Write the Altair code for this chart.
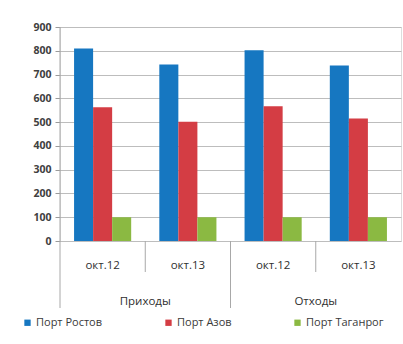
import altair as alt
import pandas as pd

groups = ["Приходы", "Приходы", "Отходы", "Отходы"]
months = ["окт.12", "окт.13", "окт.12", "окт.13"]
series = ["Порт Ростов", "Порт Азов", "Порт Таганрог"]
rostov = [810, 742, 802, 738]
azov = [562, 501, 567, 515]
taganrog = [100, 100, 100, 100]
colors = ["#1677c1", "#d43d44", "#8bb942"]

keys = [f"{g}|{m}|{i}" for i, (g, m) in enumerate(zip(groups, months))]
rows = []
for s, vals in zip(series, [rostov, azov, taganrog]):
    for k, v in zip(keys, vals):
        rows.append({"key": k, "series": s, "value": v})
df = pd.DataFrame(rows)

W, H = 341, 214
font = "Open Sans"

xband = alt.X("key:N", sort=keys, axis=None,
              scale=alt.Scale(paddingInner=0.33, paddingOuter=0.165))

bars = alt.Chart(df).mark_bar().encode(
    x=xband,
    xOffset=alt.XOffset("series:N", sort=series),
    y=alt.Y("value:Q", scale=alt.Scale(domain=[0, 900]),
            axis=alt.Axis(values=list(range(0, 901, 100)), title=None,
                          grid=True, gridColor="#bdbdbd", gridWidth=1,
                          domain=False, tickColor="#9a9a9a", tickSize=5,
                          labelFont=font, labelFontSize=10.5, labelColor="#404040",
                          labelFontWeight="bold", labelPadding=4)),
    color=alt.Color("series:N", sort=series,
                    scale=alt.Scale(domain=series, range=colors),
                    legend=alt.Legend(title=None, orient="none", legendX=-38, legendY=290,
                                      direction="horizontal", symbolType="square",
                                      symbolSize=40, symbolStrokeWidth=0,
                                      labelFont=font, labelFontSize=11,
                                      labelColor="#3a3a3a", columnPadding=60,
                                      labelOffset=3)),
)

mdf = pd.DataFrame({"key": keys, "month": months})
month_text = alt.Chart(mdf).mark_text(font=font, fontSize=11.5, color="#303030").encode(
    x=alt.X("key:N", sort=keys, axis=None),
    y=alt.value(H + 25),
    text="month:N",
)

# boundaries between categories (index-based positions)
sep = pd.DataFrame({"pos": list(range(len(keys)))})
sep["long"] = [p % 2 == 0 for p in sep["pos"]]
xq = alt.X("pos:Q", scale=alt.Scale(domain=[0, len(keys)]), axis=None)
short_rules = alt.Chart(sep[~sep["long"]]).mark_rule(color="#a8a8a8").encode(
    x=xq, y=alt.value(H), y2=alt.value(H + 31))
long_rules = alt.Chart(sep[sep["long"]]).mark_rule(color="#a8a8a8").encode(
    x=xq, y=alt.value(H), y2=alt.value(H + 67))
axis_line = alt.Chart(sep[sep["pos"] == 0]).mark_rule(color="#a8a8a8").encode(
    x=xq, y=alt.value(0), y2=alt.value(H))

gdf = pd.DataFrame({"group": ["Приходы", "Отходы"]})
gdf["pos"] = [1, 3]
group_text = alt.Chart(gdf).mark_text(font=font, fontSize=11.5, color="#303030").encode(
    x=alt.X("pos:Q", scale=alt.Scale(domain=[0, len(keys)]), axis=None),
    y=alt.value(H + 61),
    text="group:N",
)

chart = alt.layer(bars, month_text, short_rules, long_rules, axis_line, group_text).resolve_scale(
    x="independent"
).properties(
    width=W, height=H,
    autosize=alt.AutoSizeParams(type="none"),
    padding={"left": 60, "top": 27, "right": 2, "bottom": 103},
).configure_view(stroke=None).configure(background="white")

chart.save("out.html", embed_options={"renderer": "svg", "actions": False})
